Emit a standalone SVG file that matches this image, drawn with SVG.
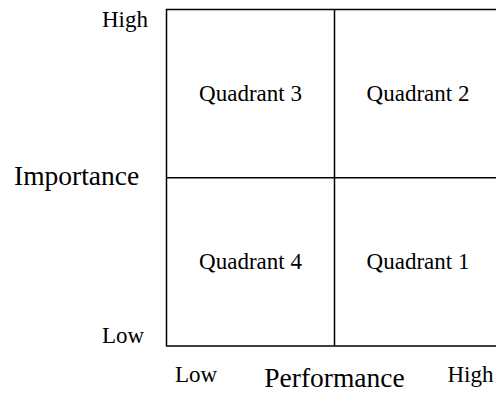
<svg xmlns="http://www.w3.org/2000/svg" width="496" height="394" viewBox="0 0 496 394">
<style>
.q{font-size:23px;text-anchor:middle}
.t{font-size:23px}
.ax{font-size:27.5px}
.ln{stroke:#000;stroke-width:1.5;fill:none}
</style>
<rect width="496" height="394" fill="#fff"/>
<g id="grid">
<rect class="ln" x="166.5" y="9.5" width="336" height="336.5"/>
<line class="ln" x1="334.5" y1="9.5" x2="334.5" y2="346"/>
<line class="ln" x1="166.5" y1="177.75" x2="502.5" y2="177.75"/>
</g>
<g font-family="'Liberation Serif', 'Times New Roman', Times, serif" fill="#000">
<g id="q3"><text class="q" x="250.5" y="101">Quadrant 3</text></g>
<g id="q2"><text class="q" x="418" y="101">Quadrant 2</text></g>
<g id="q4"><text class="q" x="250.5" y="268.5">Quadrant 4</text></g>
<g id="q1"><text class="q" x="418" y="268.5">Quadrant 1</text></g>
<g id="labels">
<text class="t" x="102" y="27">High</text>
<text class="t" x="102" y="343">Low</text>
<text class="t" x="175" y="382">Low</text>
<text class="t" x="447.5" y="382">High</text>
<text class="ax" x="14" y="185">Importance</text>
<text class="ax" x="334.5" y="387" text-anchor="middle">Performance</text>
</g>
</g>
</svg>
